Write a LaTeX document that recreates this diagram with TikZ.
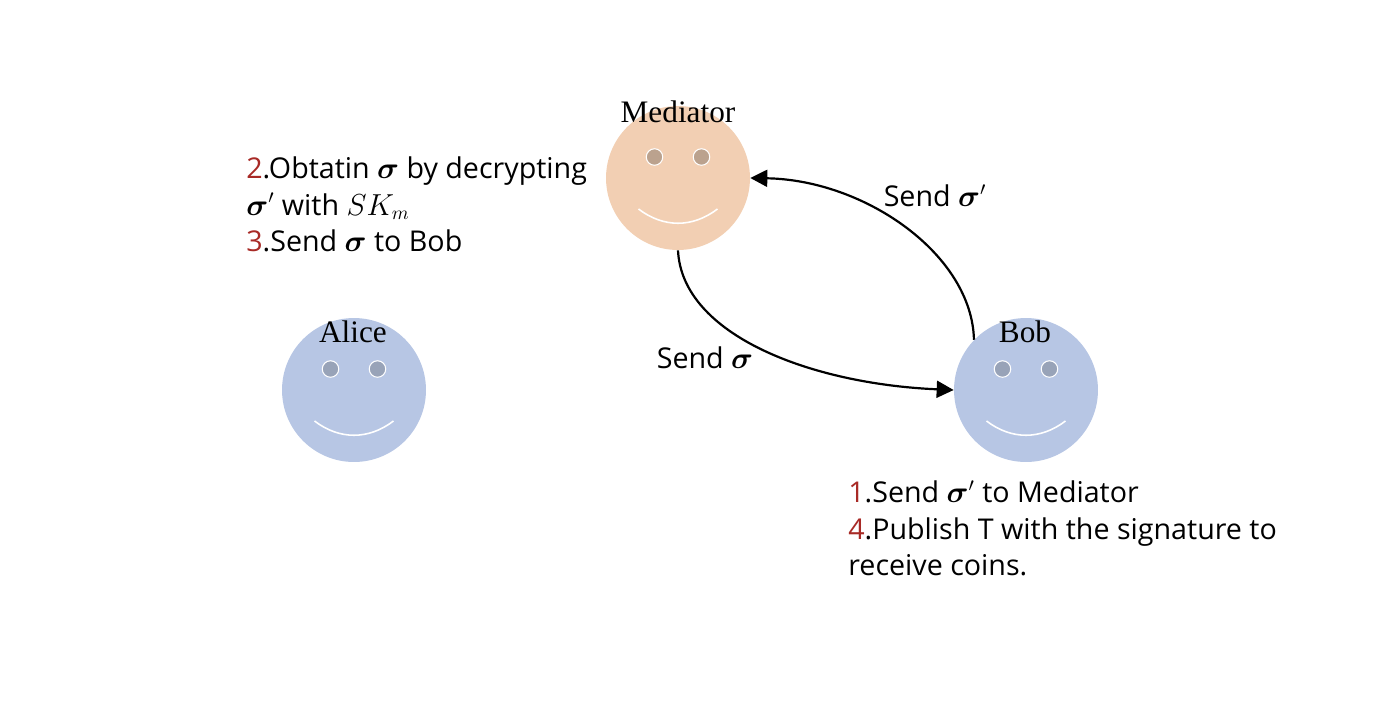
\documentclass[tikz,border=0pt]{standalone}
\usepackage{fontspec}
\usepackage{amsmath}
\setmainfont{Open Sans}
\newfontfamily\facefont{Liberation Serif}
\usetikzlibrary{arrows.meta}
\definecolor{skin}{HTML}{F2CFB3}
\definecolor{skineye}{HTML}{BBA28E}
\definecolor{blueface}{HTML}{B7C6E4}
\definecolor{blueeye}{HTML}{98A3B8}
\definecolor{stepred}{HTML}{A82A26}
\newcommand{\stepnum}[1]{\textcolor{stepred}{#1}}
\newcommand{\sg}{\boldsymbol{\sigma}}
\begin{document}
\begin{tikzpicture}[x=0.02cm, y=-0.02cm]
\tikzset{face/.style={circle, minimum size=2.88cm, inner sep=0pt}}
\tikzset{eye/.style={circle, draw=white, line width=0.6pt, minimum size=0.33cm, inner sep=0pt}}
\tikzset{who/.style={font=\facefont\fontsize{17.8}{18}\selectfont}}
\tikzset{note/.style={font=\fontsize{16.3}{21}\selectfont, align=left, anchor=north west, inner sep=0pt}}
\tikzset{msg/.style={font=\fontsize{16.3}{18}\selectfont, inner sep=0pt}}
\tikzset{mystyle/.style={-{Triangle[length=0.34cm,width=0.34cm]}, line width=1.25pt}}
\useasboundingbox (0,0) rectangle (1394,704);

\node[face, fill=skin] (mediator) at (678,178) {};
\node[face, fill=blueface] (alice) at (354,390) {};
\node[face, fill=blueface] (bob) at (1026,390) {};

\foreach \who/\eyecol in {mediator/skineye, alice/blueeye, bob/blueeye} {
  \node[eye, fill=\eyecol] (\who L) at ([xshift=-0.47cm, yshift=0.42cm]\who.center) {};
  \node[eye, fill=\eyecol] (\who R) at ([xshift=0.47cm, yshift=0.42cm]\who.center) {};
  \draw[white, line width=0.9pt] ([xshift=-0.79cm, yshift=-0.62cm]\who.center)
    .. controls +(25,19) and +(-25,19) .. ([xshift=0.79cm, yshift=-0.62cm]\who.center);
}

\node[who] (mediatorname) at (678,112) {Mediator};
\node[who] (alicename) at (353,332) {Alice};
\node[who] (bobname) at (1025,332) {Bob};

\draw[mystyle] (mediator.south) .. controls +(4,85) and +(-142,-6) .. (bob.west);
\draw[mystyle] (bob.136) .. controls +(-2,-85) and +(115,2) .. (mediator.east);

\node[msg] (sendsigma) at (705,358) {Send $\sg$};
\node[msg] (sendprime) at (935,196) {Send $\sg'$};

\node[note] (medtext) at (246,156) {\stepnum{2}.Obtatin $\sg$ by decrypting\\$\sg'$ with $SK_m$\\\stepnum{3}.Send $\sg$ to Bob};
\node[note] (bobtext) at (848,480) {\stepnum{1}.Send $\sg'$ to Mediator\\\stepnum{4}.Publish T with the signature to\\receive coins.};

\end{tikzpicture}
\end{document}
